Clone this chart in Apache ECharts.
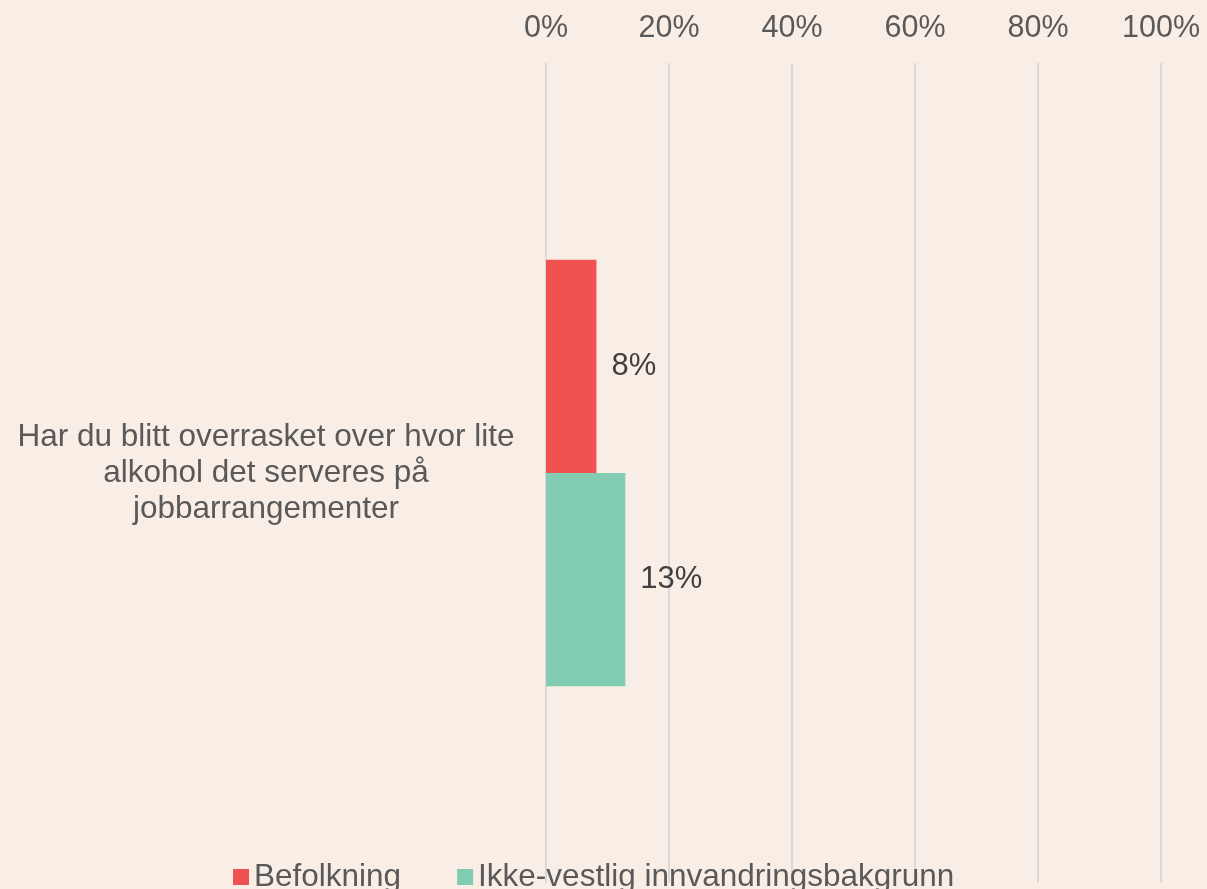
<!DOCTYPE html>
<html>
<head>
<meta charset="utf-8">
<script src="https://cdn.jsdelivr.net/npm/echarts@6/dist/echarts.min.js"></script>
<style>
  html, body { margin: 0; padding: 0; background: #f9eee6; }
  #main { width: 1207px; height: 889px; }
</style>
</head>
<body>
<div id="main"></div>
<script>
// data
var categories = ['Har du blitt overrasket over hvor lite\nalkohol det serveres på\njobbarrangementer'];
var seriesNames = ['Befolkning', 'Ikke-vestlig innvandringsbakgrunn'];
var befolkning = [8.2];
var ikkeVestlig = [12.9];
var xTicks = [0, 20, 40, 60, 80, 100];

var colors = ['#f05252', '#83ccb4'];
var font = '"Liberation Sans", Arial, sans-serif';

var chart = echarts.init(document.getElementById('main'));
chart.setOption({
  backgroundColor: '#f9eee6',
  animation: false,
  grid: { left: 546, right: 46, top: 63, bottom: 6, containLabel: false },
  legend: {
    data: seriesNames,
    left: 228,
    top: 856,
    icon: 'rect',
    itemWidth: 16,
    itemHeight: 16,
    itemGap: 56,
    textStyle: { fontFamily: font, fontSize: 31.5, color: '#595959' }
  },
  xAxis: {
    type: 'value',
    position: 'top',
    min: xTicks[0],
    max: xTicks[xTicks.length - 1],
    interval: 20,
    axisLine: { show: false },
    axisTick: { show: false },
    splitLine: { lineStyle: { color: '#d9d9d9', width: 2 } },
    axisLabel: {
      margin: 19,
      formatter: '{value}%',
      fontFamily: font, fontSize: 30.5, color: '#595959'
    }
  },
  yAxis: {
    type: 'category',
    data: categories,
    inverse: true,
    axisLine: { show: false },
    axisTick: { show: false },
    axisLabel: {
      margin: 280,
      align: 'center',
      lineHeight: 36,
      fontFamily: font, fontSize: 31.5, color: '#595959'
    }
  },
  series: [
    {
      name: seriesNames[0], type: 'bar', data: befolkning,
      barGap: 0, barCategoryGap: '48%',
      itemStyle: { color: colors[0] },
      label: {
        show: true, position: 'right', distance: 15,
        formatter: function (p) { return Math.round(p.value) + '%'; },
        fontFamily: font, fontSize: 31, color: '#404040'
      }
    },
    {
      name: seriesNames[1], type: 'bar', data: ikkeVestlig,
      barGap: 0, barCategoryGap: '48%',
      itemStyle: { color: colors[1] },
      label: {
        show: true, position: 'right', distance: 15,
        formatter: function (p) { return Math.round(p.value) + '%'; },
        fontFamily: font, fontSize: 31, color: '#404040'
      }
    }
  ]
});
</script>
</body>
</html>
